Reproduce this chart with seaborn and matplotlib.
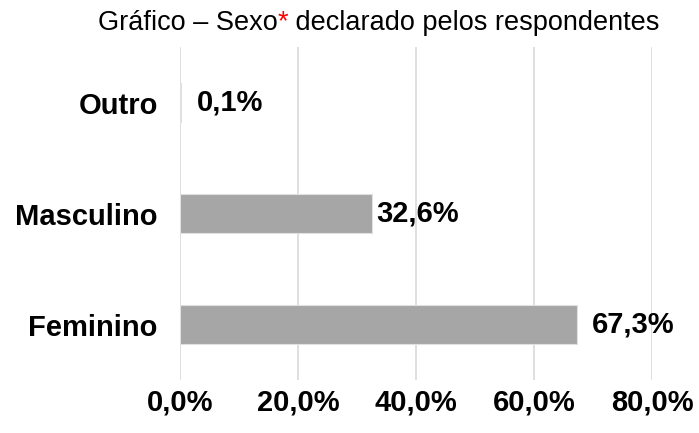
import pandas as pd
import seaborn as sns
import matplotlib.pyplot as plt

# data
categorias = ['Outro', 'Masculino', 'Feminino']
percentuais = [0.1, 32.6, 67.3]
rotulos = ['0,1%', '32,6%', '67,3%']
ticks = [0, 20, 40, 60, 80]
tick_labels = ['0,0%', '20,0%', '40,0%', '60,0%', '80,0%']

df = pd.DataFrame({'sexo': categorias, 'pct': percentuais})

sns.set_style('white')
plt.rcParams['font.family'] = ['Liberation Sans', 'DejaVu Sans']
plt.rcParams['text.color'] = 'black'
plt.rcParams['xtick.color'] = 'black'
plt.rcParams['ytick.color'] = 'black'

fig = plt.figure(figsize=(6.99, 4.33), dpi=100)
ax = fig.add_axes([0.2575, 0.1224, 0.6753, 0.7690])

sns.barplot(data=df, x='pct', y='sexo', color='#a6a6a6', saturation=1,
            width=0.36, edgecolor='#e0e0e0', linewidth=0.8, ax=ax, zorder=3)

ax.set_xlim(0, 80)
ax.set_ylim(2.5, -0.5)
ax.set_xticks(ticks)
ax.set_xticklabels(tick_labels, fontsize=21, fontweight='bold')
ax.tick_params(axis='x', pad=6, length=0)
ax.tick_params(axis='y', pad=16, length=0, labelsize=21)
for t in ax.get_yticklabels():
    t.set_fontweight('bold')
ax.set_xlabel('')
ax.set_ylabel('')
ax.grid(axis='x', color='#d9d9d9', linewidth=1.2, zorder=0)
sns.despine(ax=ax, left=True, bottom=True)

# value labels (Excel places them a bit unevenly)
label_pad = [12, 3, 11]
for i, (v, lab) in enumerate(zip(percentuais, rotulos)):
    ax.annotate(lab, (v, i), xytext=(label_pad[i], 0), textcoords='offset points',
                va='center', ha='left', fontsize=21, fontweight='bold',
                annotation_clip=False)

# title with red asterisk
ty = 0.948
t1 = fig.text(0.140, ty, 'Gráfico – Sexo', fontsize=19.5, ha='left', va='center')
fig.canvas.draw()
x2 = t1.get_window_extent().x1 / fig.bbox.width
t2 = fig.text(x2, ty, '*', fontsize=19.5, ha='left', va='center', color='red')
fig.canvas.draw()
x3 = t2.get_window_extent().x1 / fig.bbox.width
fig.text(x3, ty, ' declarado pelos respondentes', fontsize=19.5, ha='left', va='center')

fig.savefig('out.png', dpi=100)
